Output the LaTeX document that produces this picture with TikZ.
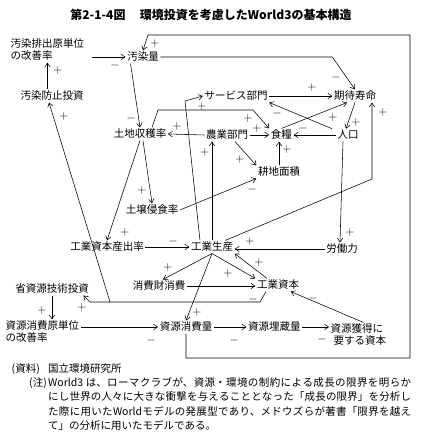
\documentclass[tikz,border=0pt]{standalone}
\usepackage{fontspec}
\setmainfont{Noto Sans CJK JP}
\XeTeXlinebreaklocale "ja"
\XeTeXlinebreakskip=0pt plus 2pt
\usetikzlibrary{arrows.meta, positioning, calc}

\begin{document}
\begin{tikzpicture}[
  x=1pt, y=-1pt,
  font=\fontsize{10.5}{12}\selectfont,
  lbl/.style={inner sep=1.5pt},
  ml/.style={inner sep=1.5pt, align=left, anchor=west},
  arr/.style={-{Straight Barb[length=4pt,width=5.5pt]}, line width=0.55pt},
  sgn/.style={inner sep=0pt, font=\fontsize{12}{12}\selectfont},
  note/.style={inner sep=0pt, font=\fontsize{10.5}{14.3}\selectfont},
]
\useasboundingbox (0,0) rectangle (420,436);

% --- Titel ---
\node[font=\bfseries\fontsize{12}{12}\selectfont] (title) at (211,15)
  {第2-1-4図\hspace{1.2em}環境投資を考慮したWorld3の基本構造};

% --- Knoten ---
\node[ml]  (pollrate) at (9,50)   {汚染排出原単位\\の改善率};
\node[lbl] (poll)     at (143,57) {汚染量};
\node[lbl] (pollinv)  at (52,96)  {汚染防止投資};
\node[lbl] (svc)      at (236,96) {サービス部門};
\node[lbl] (life)     at (355,96) {期待寿命};
\node[lbl] (land)     at (140,134) {土地収穫率};
\node[lbl] (agr)      at (227,135) {農業部門};
\node[lbl, right=19.5pt of agr] (food) {食糧};
\node[lbl] (pop)      at (348,135) {人口};
\node[lbl] (arable)   at (279,172) {耕地面積};
\node[lbl] (erosion)  at (152,210) {土壌侵食率};
\node[lbl] (icor)     at (107,247) {工業資本産出率};
\node[lbl] (indout)   at (212,247) {工業生産};
\node[lbl] (labor)    at (342,249) {労働力};
\node[lbl] (cons)     at (159,286) {消費財消費};
\node[lbl] (indcap)   at (278,285) {工業資本};
\node[lbl] (resinv)   at (52,289) {省資源技術投資};
\node[ml]  (resrate)  at (4,332)  {資源消費原単位\\の改善率};
\node[lbl] (rescons)  at (186,327) {資源消費量};
\node[lbl, right=32.5pt of rescons] (resres) {資源埋蔵量};
\node[ml]  (rescap)   at (329,335) {資源獲得に\\\hspace*{3pt}要する資本};

% --- Verbindungen ---
\draw[arr] ($(pollrate.east |- poll.west)+(6,0)$) -- (poll.west);
\draw[arr] (pollinv.north -| pollrate.south) -- (pollrate.south);
\draw[arr] (poll.east) -- (poll.east -| life.north west) -- (life.north);
\draw[arr] ([xshift=5pt]poll.south west) -- (land.north);
\draw[arr] (svc.east) -- (life.west);
\coordinate (svcbend) at (185,101);
\draw[arr] ([xshift=-12pt]indout.north) -- (svcbend) -- (svc.west);
\draw[arr] (indout.north) -- (indout.north |- agr.south);
\coordinate (lifebend) at (372,179);
\draw[arr] ([xshift=13pt]indout.north) -- (lifebend) -- (lifebend |- life.south);
\coordinate (landbendA) at (158,110);
\coordinate (landbendB) at (253,110);
\draw[arr] ([xshift=12pt]land.north) -- (landbendA) -- (landbendB) -- (food.north west);
\draw[arr] (agr.west) -- (land.east);
\draw[arr] (agr.east) -- (food.west);
\draw[arr] (pop.west) -- (food.east);
\draw[arr] (food.north) -- ([xshift=-8pt]life.south);
\draw[arr] ([xshift=-16pt]pop.north) -- (svc.south east);
\draw[arr] (life.south) -- ([xshift=-2pt]pop.north);
\draw[arr] (arable.north) -- (arable.north |- food.south);
\draw[arr] ([xshift=8pt]agr.south) -- (arable.north west);
\draw[arr] (erosion.east) -- (arable.south west);
\draw[arr] ([xshift=3pt]land.south) -- (erosion.north);
\draw[arr] (land.south) -- (icor.north);
\draw[arr] ([xshift=-5pt]pop.south) -- ([xshift=-2pt]labor.north);
\draw[arr] (icor.east) -- (indout.west);
\draw[arr] (labor.west) -- (labor.west -| indout.east);
\draw[arr] (indout.south) -- ([xshift=4pt]cons.north);
\draw[arr] (indout.south) -- (indcap.north west);
\draw[arr] ([xshift=-11pt]indcap.north) -- (indout.south east);
\draw[arr] (indout.south) -- (rescons.north);
\draw[arr] (cons.east) -- (cons.east -| indcap.west);
\coordinate (capbend) at (260,302);
\coordinate (pollbr) at (110,302);
\coordinate (resbend) at (90,302);
\draw[arr] ([xshift=-12pt]indcap.south) -- (capbend) -- (resbend) -- ([xshift=-7pt]resinv.south east);
\draw[arr] (pollbr) -- ([xshift=-3pt]pollinv.south);
\draw[arr] (resinv.south) -- (resinv.south |- resrate.north);
\draw[arr] (resrate.east |- rescons.west) -- (rescons.west);
\draw[arr] (rescons.east) -- (resres.west);
\draw[arr] (resres.east) -- (resres.east -| rescap.west);
\draw[arr] ([xshift=5pt]rescap.north) -- ([xshift=-10pt]indcap.south east);

% Rahmen: Ressourcenverbrauch -> Verschmutzung
\coordinate (frBR) at (410,358);
\coordinate (frTR) at (410,35);
\coordinate (frTL) at (148,35);
\draw[arr] (rescons.south) |- (frBR) -- (frTR) -- (frTL) -- (poll.north);

% --- Vorzeichen ---
\foreach \px/\py [count=\i] in {58/71, 155/44, 312/87, 202/106, 205/152, 383/112,
    248/118, 177/126, 257/128, 333/117, 356/122, 287/149, 240/159, 142/190,
    125/232, 350/232, 250/241, 168/267, 228/273, 259/262, 197/312, 82/307,
    64/116, 42/310}
  \node[sgn] (plus\i) at (\px,\py) {$+$};
\foreach \mx/\my [count=\i] in {115/66, 336/77, 131/118, 303/128, 277/113,
    252/189, 173/241, 253/299, 151/340, 234/340, 322/339, 313/298}
  \node[sgn] (minus\i) at (\mx,\my) {$-$};

% --- Quelle und Anmerkung ---
\node[note, anchor=base east] (srclbl) at (40,372) {(資料)};
\node[note, anchor=base west] (srctxt) at (48,372) {国立環境研究所};
\node[note, anchor=base east] (notelbl) at (47,386.5) {(注)};
\node[note, anchor=north west, text width=363pt, align=justify] (notetxt) at (48,377.3)
  {World3 は、ローマクラブが、資源・環境の制約による成長の限界を明らか\linebreak
   にし世界の人々に大きな衝撃を与えることとなった「成長の限界」を分析し\linebreak
   た際に用いたWorldモデルの発展型であり、メドウズらが著書「限界を越え\linebreak
   て」の分析に用いたモデルである。};

\end{tikzpicture}
\end{document}
